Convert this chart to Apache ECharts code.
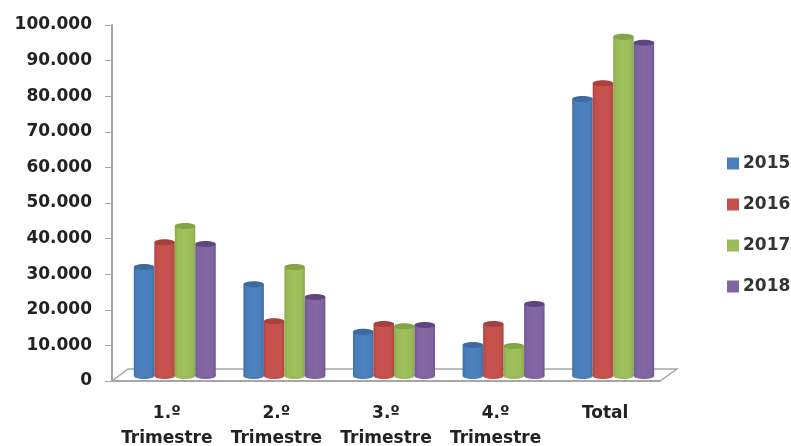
<!DOCTYPE html>
<html>
<head>
<meta charset="utf-8">
<style>html,body{margin:0;padding:0;background:#fff}#c{width:791px;height:446px}</style>
<script src="https://cdn.jsdelivr.net/npm/echarts@6/dist/echarts.min.js"></script>
</head>
<body>
<div id="c"></div>
<script>
const categories = ['1.º\nTrimestre', '2.º\nTrimestre', '3.º\nTrimestre', '4.º\nTrimestre', 'Total'];
const v2015 = [30600, 25800, 12400, 8700, 77800];
const v2016 = [37600, 15400, 14600, 14600, 82200];
const v2017 = [42100, 30600, 14000, 8400, 95300];
const v2018 = [37100, 22200, 14300, 20200, 93600];
const years = ['2015', '2016', '2017', '2018'];
const seriesValues = [v2015, v2016, v2017, v2018];
const colors = [
  {base: '#4a7ebb', dark: '#3f6fa8', light: '#4c82c1', top: '#3d6a9f'},
  {base: '#c4504c', dark: '#b04542', light: '#c9524e', top: '#a8403d'},
  {base: '#9bbb59', dark: '#8bab4c', light: '#a0c15c', top: '#83a344'},
  {base: '#8064a2', dark: '#715793', light: '#8468a6', top: '#5f4680'}
];
const FONT = '"DejaVu Sans"';
const chart = echarts.init(document.getElementById('c'), null, {renderer: 'canvas'});
const L = 112, R = 660, T = 25, B = 381;
const depthX = 8, depthY = 5;

function cylinder(idx) {
  const c = colors[idx];
  return function (params, api) {
    const cat = api.value(0);
    const top = api.coord([cat, api.value(1)]);
    const zero = api.coord([cat, 0]);
    const band = api.size([1, 0])[0];
    const w = band * 0.187;
    const x = top[0] + depthX + (idx - 2) * w;
    const yt = top[1] - depthY, yb = zero[1] - depthY;
    const ry = 3;
    return {
      type: 'group',
      children: [
        {type: 'ellipse', shape: {cx: x + w / 2, cy: yb, rx: w / 2, ry: ry}, style: {fill: c.base}},
        {type: 'rect', shape: {x: x, y: yt, width: w, height: yb - yt},
          style: {fill: new echarts.graphic.LinearGradient(0, 0, 1, 0, [
            {offset: 0, color: c.dark}, {offset: 0.15, color: c.base},
            {offset: 0.5, color: c.light}, {offset: 0.85, color: c.base},
            {offset: 1, color: c.dark}])}},
        {type: 'ellipse', shape: {cx: x + w / 2, cy: yt, rx: w / 2, ry: ry}, style: {fill: c.top}}
      ]
    };
  };
}

chart.setOption({
  animation: false,
  backgroundColor: '#fff',
  grid: {left: L, top: T, width: R - L, height: B - T, outerBoundsMode: 'none'},
  legend: {
    orient: 'vertical', left: 722, top: 150, itemWidth: 12, itemHeight: 12, itemGap: 24,
    icon: 'rect', data: years,
    textStyle: {fontFamily: FONT, fontSize: 17, fontWeight: 'bold', color: '#333', padding: [0, 0, 0, -1]}
  },
  xAxis: {
    type: 'category', data: categories,
    axisLine: {lineStyle: {color: '#a6a6a6', width: 2}},
    axisTick: {length: 10, lineStyle: {color: '#a6a6a6', width: 1}},
    axisLabel: {fontFamily: FONT, fontSize: 17, fontWeight: 'bold', color: '#222', lineHeight: 25, margin: 20, interval: 0}
  },
  yAxis: {
    type: 'value', min: 0, max: 100000, interval: 10000,
    splitLine: {show: false},
    axisLine: {show: true, lineStyle: {color: '#a6a6a6', width: 2}},
    axisTick: {show: true, length: 7, lineStyle: {color: '#a6a6a6', width: 1}},
    axisLabel: {
      fontFamily: FONT, fontSize: 17, fontWeight: 'bold', color: '#222', margin: 20,
      formatter: v => v === 0 ? '0' : (v / 1000) + '.000'
    }
  },
  graphic: [{
    type: 'polyline', silent: true, z: 1,
    shape: {points: [[L, B], [L + 16, B - 12], [R + 17, B - 12], [R, B]]},
    style: {fill: 'none', stroke: '#a6a6a6', lineWidth: 1.5}
  }],
  series: years.map((y, i) => ({
    name: y, type: 'custom', clip: false, z: 5 + i,
    itemStyle: {color: colors[i].base},
    encode: {x: 0, y: 1},
    renderItem: cylinder(i),
    data: seriesValues[i].map((v, k) => [k, v])
  }))
});
</script>
</body>
</html>
